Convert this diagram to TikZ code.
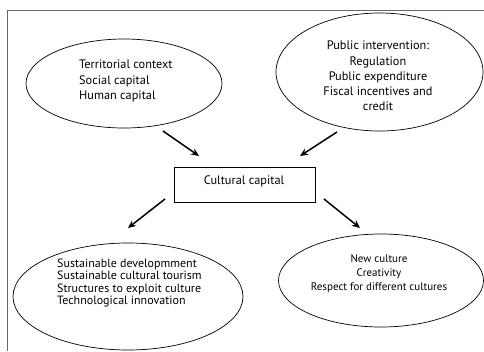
\documentclass[tikz,border=0pt]{standalone}
\usepackage{fontspec}
\setmainfont{PT Sans}
\usetikzlibrary{shapes.geometric,arrows.meta}
\begin{document}
\begin{tikzpicture}[x=1pt,y=-1pt,
  oval/.style={draw=black,line width=0.7pt,ellipse,inner sep=0pt},
  txt/.style={inner sep=0pt,font=#1},
  frameline/.style={draw=black!60,line width=1pt},
  arr/.style={line width=1.5pt,-{Stealth[length=8pt,width=7pt]}},
  box/.style={draw=black,line width=0.8pt,inner sep=0pt}]
\useasboundingbox (0,0) rectangle (484,351);
\draw[frameline] (7,351) -- (7,10) -- (484,10);
% ellipses
\node[oval,minimum width=196,minimum height=89] (e1) at (124,83.5) {};
\node[oval,minimum width=207,minimum height=118] (e2) at (379.5,72) {};
\node[oval,minimum width=230,minimum height=107] (e3) at (128,296.5) {};
\node[oval,minimum width=205,minimum height=93] (e4) at (381,280.5) {};
\node[box,minimum width=141,minimum height=35] (cc) at (245,184.5) {};
% texts
\node[txt={\fontsize{12.3}{15.8}\selectfont},align=left,anchor=west] (t1) at (79,81) {Territorial context\\Social capital\\Human capital};
\node[txt={\fontsize{12.3}{15.2}\selectfont},align=center] (t2) at (378,76) {Public intervention:\\Regulation\\Public expenditure\\Fiscal incentives and\\credit};
\node[txt={\fontsize{12}{12.6}\selectfont},align=left,anchor=west] (t3) at (57,283) {Sustainable developmment\\Sustainable cultural tourism\\Structures to exploit culture\\Technological innovation};
\node[txt={\fontsize{11}{14.3}\selectfont},align=center] (t4) at (379,273.5) {New culture\\Creativity\\Respect for different cultures};
\node[txt={\fontsize{12.3}{15}\selectfont}] (t5) at (244,181) {Cultural capital};
% arrow ends
\coordinate (a1s) at (163,131); \coordinate (a1e) at (199,156);
\coordinate (a2s) at (337,132); \coordinate (a2e) at (300,156);
\coordinate (a3s) at (165,199); \coordinate (a3e) at (128,228);
\coordinate (a4s) at (324,199); \coordinate (a4e) at (360,228);
\draw[arr] (a1s) -- (a1e);
\draw[arr] (a2s) -- (a2e);
\draw[arr] (a3s) -- (a3e);
\draw[arr] (a4s) -- (a4e);
\end{tikzpicture}
\end{document}
